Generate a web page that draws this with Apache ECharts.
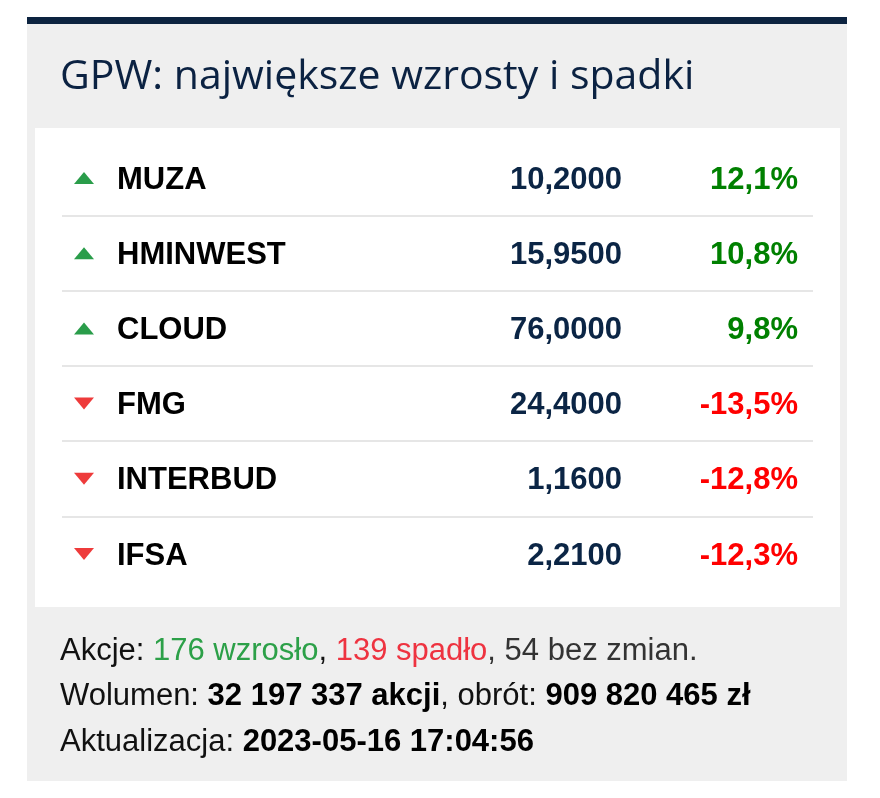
<!DOCTYPE html>
<html>
<head>
<meta charset="utf-8">
<script src="https://cdn.jsdelivr.net/npm/echarts@6/dist/echarts.min.js"></script>
<style>html,body{margin:0;padding:0;background:#fff}#c{width:880px;height:798px}</style>
</head>
<body>
<div id="c"></div>
<script>
// ---- data ----
const names = ['MUZA', 'HMINWEST', 'CLOUD', 'FMG', 'INTERBUD', 'IFSA'];
const prices = [10.2, 15.95, 76.0, 24.4, 1.16, 2.21];
const changes = [12.1, 10.8, 9.8, -13.5, -12.8, -12.3];
const upCount = 176;
const downCount = 139;
const flatCount = 54;
const volume = 32197337;
const turnover = 909820465;
const updated = '2023-05-16 17:04:56';
const titleText = 'GPW: największe wzrosty i spadki';

// ---- helpers ----
const fmtDec = (v, d) => v.toFixed(d).replace('.', ',');
const fmtGroup = v => String(v).replace(/\B(?=(\d{3})+(?!\d))/g, ' ');

const COL = { icon: 22, name: 55, price: 560, pct: 736 };
const UP_ICON = '#2a9d4a', DOWN_ICON = '#ee3b3b';
const UP_TXT = '#008000', DOWN_TXT = '#ff0000';
const NAVY = '#0b2545';
const rowFont = { fontFamily: 'Liberation Sans', fontWeight: 'bold', fontSize: 31 };
const FF = 'Liberation Sans';
const reg = c => ({ fontFamily: FF, fontSize: 31, fontWeight: 'normal', color: c, lineHeight: 36 });
const bld = c => ({ fontFamily: FF, fontSize: 31, fontWeight: 'bold', color: c, lineHeight: 36 });

const chart = echarts.init(document.getElementById('c'));
const option = {
  backgroundColor: '#ffffff',
  animation: false,
  graphic: [
    { type: 'rect', z: -10, shape: { x: 27, y: 17, width: 820, height: 7 }, style: { fill: '#0c2340' } },
    { type: 'rect', z: -10, shape: { x: 27, y: 24, width: 820, height: 757 }, style: { fill: '#efefef' } },
    { type: 'rect', z: -9, shape: { x: 35, y: 128, width: 805, height: 479 }, style: { fill: '#ffffff' } }
  ],
  title: [
    {
      text: titleText, left: 60, top: 53, padding: 0,
      textStyle: { fontFamily: 'Open Sans', fontSize: 41, fontWeight: 500, color: '#0b2242', lineHeight: 48 }
    },
    {
      left: 60, top: 633, padding: 0,
      text: '{l|Akcje: }{g|' + upCount + ' wzrosło}{l|, }{r|' + downCount + ' spadło}{d|, ' + flatCount + ' bez zmian.}',
      textStyle: {
        fontWeight: 'normal',
        rich: { l: reg('#111111'), g: reg('#2ca048'), r: reg('#ee3340'), d: reg('#333333') }
      }
    },
    {
      left: 60, top: 678, padding: 0,
      text: '{l|Wolumen: }{b|' + fmtGroup(volume) + ' akcji}{l|, obrót: }{b|' + fmtGroup(turnover) + ' zł}',
      textStyle: { fontWeight: 'normal', rich: { l: reg('#111111'), b: bld('#000000') } }
    },
    {
      left: 60, top: 724, padding: 0,
      text: '{l|Aktualizacja: }{b|' + updated + '}',
      textStyle: { fontWeight: 'normal', rich: { l: reg('#111111'), b: bld('#000000') } }
    }
  ],
  grid: { left: 62, right: 67, top: 140.4, height: 451.2 },
  xAxis: { type: 'value', min: 0, max: 751, show: false },
  yAxis: {
    type: 'category', inverse: true, data: names,
    axisLine: { show: false }, axisTick: { show: false }, axisLabel: { show: false },
    splitLine: { show: true, showMinLine: false, showMaxLine: false, lineStyle: { color: '#e6e6e6', width: 2 } }
  },
  series: [
    {
      type: 'scatter', symbol: 'triangle', symbolSize: [20, 12], silent: true,
      itemStyle: { opacity: 1 },
      data: names.map((n, i) => ({
        value: [COL.icon, n],
        symbolRotate: changes[i] < 0 ? 180 : 0,
        itemStyle: { color: changes[i] < 0 ? DOWN_ICON : UP_ICON, opacity: 1 }
      }))
    },
    {
      type: 'scatter', symbolSize: 0, silent: true, itemStyle: { opacity: 1 },
      data: names.map(n => [COL.name, n]),
      label: { show: true, position: 'right', distance: 0, offset: [0, 2], color: '#000000', ...rowFont, formatter: p => names[p.dataIndex] }
    },
    {
      type: 'scatter', symbolSize: 0, silent: true, itemStyle: { opacity: 1 },
      data: names.map(n => [COL.price, n]),
      label: { show: true, position: 'left', distance: 0, offset: [0, 2], color: NAVY, ...rowFont, formatter: p => fmtDec(prices[p.dataIndex], 4) }
    },
    {
      type: 'scatter', symbolSize: 0, silent: true, itemStyle: { opacity: 1 },
      data: names.map((n, i) => ({
        value: [COL.pct, n],
        label: { color: changes[i] < 0 ? DOWN_TXT : UP_TXT }
      })),
      label: { show: true, position: 'left', distance: 0, offset: [0, 2], ...rowFont, formatter: p => fmtDec(changes[p.dataIndex], 1) + '%' }
    }
  ]
};
chart.setOption(option);
</script>
</body>
</html>
